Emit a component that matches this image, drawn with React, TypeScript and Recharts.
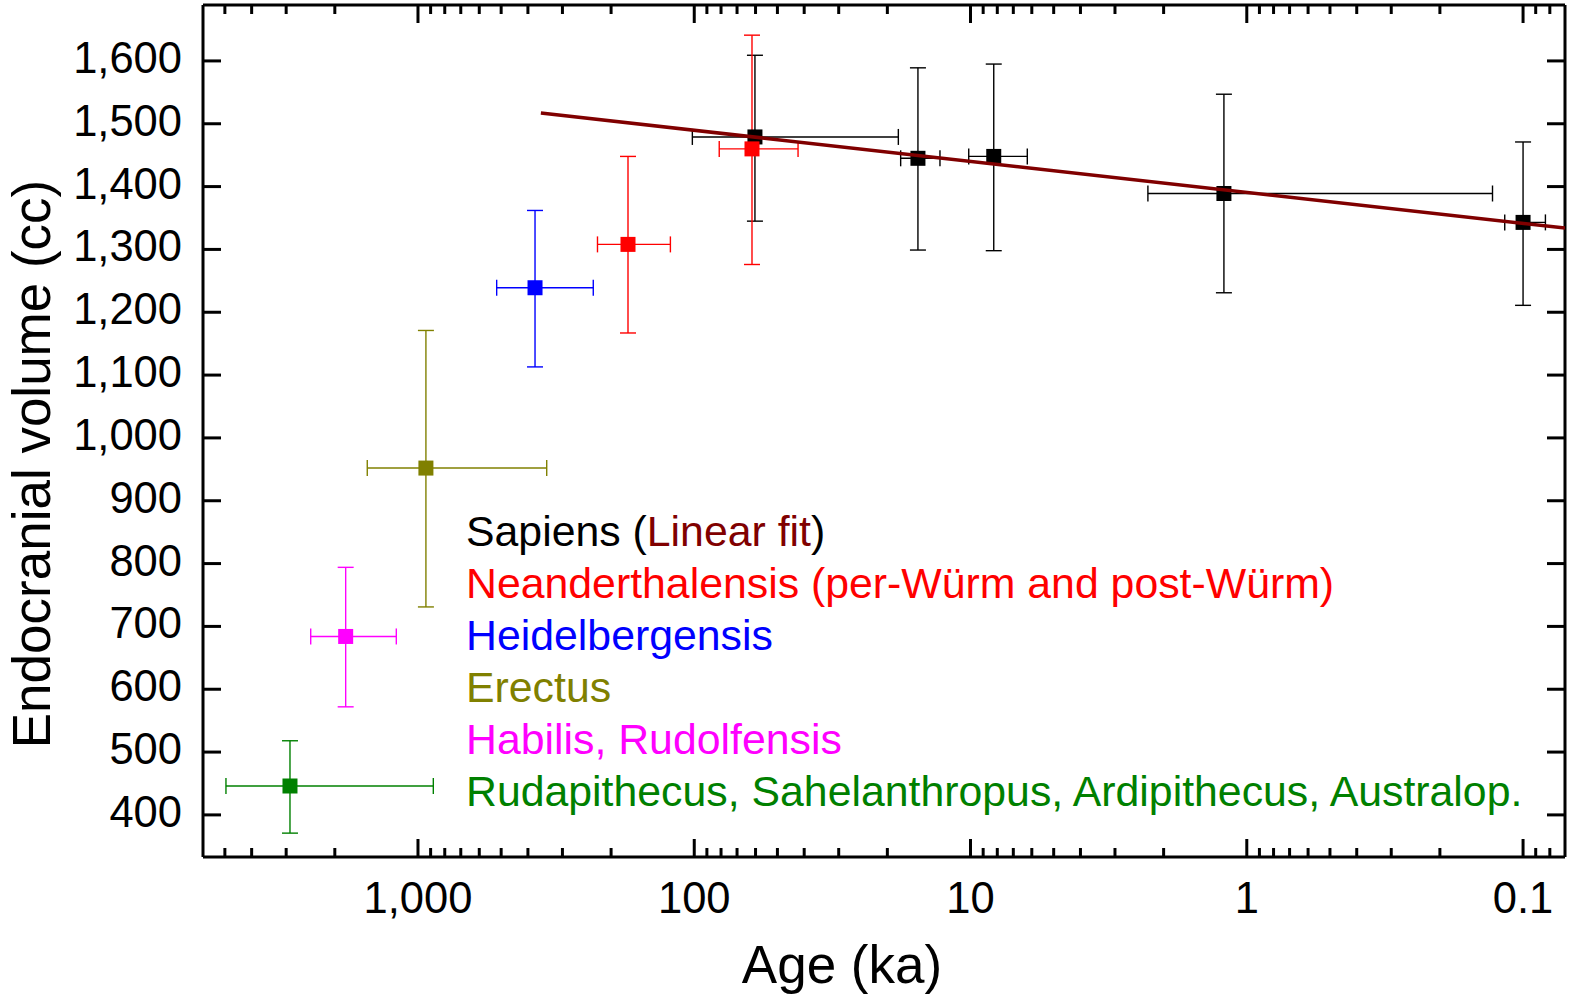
import React from 'react';
import { ScatterChart, Scatter, XAxis, YAxis, ErrorBar } from 'recharts';

const FONT = '"Liberation Sans", Arial, Helvetica, sans-serif';

// Axes
const X_DOMAIN = [0.0705, 6000];
const Y_DOMAIN = [333, 1689];
const X_MAJOR = [1000, 100, 10, 1, 0.1];
const X_MINOR = [
  5000, 4000, 3000, 2000,
  900, 800, 700, 600, 500, 400, 300, 200,
  90, 80, 70, 60, 50, 40, 30, 20,
  9, 8, 7, 6, 5, 4, 3, 2,
  0.9, 0.8, 0.7, 0.6, 0.5, 0.4, 0.3, 0.2,
  0.09, 0.08,
];
const Y_TICKS = [400, 500, 600, 700, 800, 900, 1000, 1100, 1200, 1300, 1400, 1500, 1600];

// Sapiens (black)
const sapiensAge = [60.3, 15.5, 8.24, 1.21, 0.1];
const sapiensAgeLo = [18.25, 12.9, 6.23, 0.129, 0.083];
const sapiensAgeHi = [101.6, 17.9, 10.15, 2.28, 0.1165];
const sapiensVol = [1479, 1445, 1448, 1389, 1343];
const sapiensVolLo = [1345, 1299, 1298, 1231, 1211];
const sapiensVolHi = [1609, 1589, 1595, 1547, 1471];

// Linear fit (sapiens)
const fitAge = [359, 0.0705];
const fitVol = [1517, 1334];

// Neanderthalensis (red)
const neandAge = [61.8, 173.7];
const neandAgeLo = [42.1, 122];
const neandAgeHi = [81.2, 224];
const neandVol = [1460, 1308];
const neandVolLo = [1276, 1167];
const neandVolHi = [1641, 1448];

// Heidelbergensis (blue)
const heidAge = [377];
const heidAgeLo = [232];
const heidAgeHi = [519];
const heidVol = [1239];
const heidVolLo = [1113];
const heidVolHi = [1362];

// Erectus (olive)
const erecAge = [936];
const erecAgeLo = [342];
const erecAgeHi = [1526];
const erecVol = [952];
const erecVolLo = [731];
const erecVolHi = [1171];

// Habilis, Rudolfensis (magenta)
const habAge = [1827];
const habAgeLo = [1198];
const habAgeHi = [2445];
const habVol = [684];
const habVolLo = [572];
const habVolHi = [794];

// Rudapithecus, Sahelanthropus, Ardipithecus, Australop. (green)
const rudAge = [2906];
const rudAgeLo = [880];
const rudAgeHi = [4955];
const rudVol = [446];
const rudVolLo = [371];
const rudVolHi = [518];

const LEGEND_TEXTS = [
  'Neanderthalensis (per-Würm and post-Würm)',
  'Heidelbergensis',
  'Erectus',
  'Habilis, Rudolfensis',
  'Rudapithecus, Sahelanthropus, Ardipithecus, Australop.',
];
const LEGEND_COLORS = ['#FF0000', '#0000FF', '#808000', '#FF00FF', '#008000'];

const C_BLACK = '#000000';
const C_FIT = '#800000';

function build(age: number[], aLo: number[], aHi: number[], vol: number[], vLo: number[], vHi: number[]) {
  return age.map((a, i) => ({
    x: a,
    y: vol[i],
    ex: [a - aLo[i], aHi[i] - a],
    ey: [vol[i] - vLo[i], vHi[i] - vol[i]],
  }));
}

const sapiensData = build(sapiensAge, sapiensAgeLo, sapiensAgeHi, sapiensVol, sapiensVolLo, sapiensVolHi);
const neandData = build(neandAge, neandAgeLo, neandAgeHi, neandVol, neandVolLo, neandVolHi);
const heidData = build(heidAge, heidAgeLo, heidAgeHi, heidVol, heidVolLo, heidVolHi);
const erecData = build(erecAge, erecAgeLo, erecAgeHi, erecVol, erecVolLo, erecVolHi);
const habData = build(habAge, habAgeLo, habAgeHi, habVol, habVolLo, habVolHi);
const rudData = build(rudAge, rudAgeLo, rudAgeHi, rudVol, rudVolLo, rudVolHi);
const fitData = fitAge.map((a, i) => ({ x: a, y: fitVol[i] }));

const X_ALL = [...X_MAJOR, ...X_MINOR];

const fmtX = (v: number) => (v >= 1000 ? v.toLocaleString('en-US') : String(v));
const fmtY = (v: number) => v.toLocaleString('en-US');

const TICK_FONT = 43.5;

const BottomTick = (props: any) => {
  const { x, y, payload } = props;
  const major = X_MAJOR.includes(payload.value);
  return (
    <g>
      <line x1={x} x2={x} y1={y} y2={y - (major ? 18 : 9)} stroke="#000" strokeWidth={3} />
      {major && (
        <text x={x} y={y + 56} textAnchor="middle" fontSize={TICK_FONT} fontFamily={FONT} fill="#000">
          {fmtX(payload.value)}
        </text>
      )}
    </g>
  );
};

const TopTick = (props: any) => {
  const { x, y, payload } = props;
  const major = X_MAJOR.includes(payload.value);
  return <line x1={x} x2={x} y1={y} y2={y + (major ? 18 : 9)} stroke="#000" strokeWidth={3} />;
};

const LeftTick = (props: any) => {
  const { x, y, payload } = props;
  return (
    <g>
      <line x1={x} x2={x + 18} y1={y} y2={y} stroke="#000" strokeWidth={3} />
      <text x={x - 21} y={y + 12} textAnchor="end" fontSize={TICK_FONT} fontFamily={FONT} fill="#000">
        {fmtY(payload.value)}
      </text>
    </g>
  );
};

const RightTick = (props: any) => {
  const { x, y } = props;
  return <line x1={x} x2={x - 18} y1={y} y2={y} stroke="#000" strokeWidth={3} />;
};

const XTitle = () => (
  <text x={842} y={983} textAnchor="middle" fontSize={53} fontFamily={FONT} fill="#000">
    Age (ka)
  </text>
);

const YTitle = () => (
  <text transform="translate(50,464) rotate(-90)" textAnchor="middle" fontSize={53} fontFamily={FONT} fill="#000">
    Endocranial volume (cc)
  </text>
);

const square = (color: string) => (props: any) => {
  const { cx, cy } = props;
  if (cx == null || cy == null) return <g />;
  return <rect x={cx - 7.5} y={cy - 7.5} width={15} height={15} fill={color} />;
};

const noShape = () => <g />;

const EB_W = 1.4;

export default function App() {
  const axisLine = { stroke: '#000', strokeWidth: 3 };
  const groups = [
    { key: 'neand', data: neandData, color: '#FF0000' },
    { key: 'heid', data: heidData, color: '#0000FF' },
    { key: 'erec', data: erecData, color: '#808000' },
    { key: 'hab', data: habData, color: '#FF00FF' },
    { key: 'rud', data: rudData, color: '#008000' },
  ];
  return (
    <div style={{ position: 'absolute', left: 0, top: 0, width: 1574, height: 999, background: '#fff' }}>
      <ScatterChart width={1574} height={999} margin={{ top: 0, right: 0, bottom: 0, left: 0 }}>
        <XAxis
          xAxisId="b"
          type="number"
          dataKey="x"
          scale="log"
          domain={X_DOMAIN}
          reversed
          allowDataOverflow
          ticks={X_ALL}
          interval={0}
          height={142}
          tickSize={0}
          tickMargin={0}
          tickLine={false}
          axisLine={axisLine}
          tick={(p: any) => <BottomTick {...p} />}
          label={<XTitle />}
        />
        <XAxis
          xAxisId="t"
          orientation="top"
          type="number"
          dataKey="x"
          scale="log"
          domain={X_DOMAIN}
          reversed
          allowDataOverflow
          ticks={X_ALL}
          interval={0}
          height={5}
          tickSize={0}
          tickMargin={0}
          tickLine={false}
          axisLine={axisLine}
          tick={(p: any) => <TopTick {...p} />}
        />
        <YAxis
          yAxisId="l"
          type="number"
          dataKey="y"
          domain={Y_DOMAIN}
          allowDataOverflow
          ticks={Y_TICKS}
          interval={0}
          width={203}
          tickSize={0}
          tickMargin={0}
          tickLine={false}
          axisLine={axisLine}
          tick={(p: any) => <LeftTick {...p} />}
          label={<YTitle />}
        />
        <YAxis
          yAxisId="r"
          orientation="right"
          type="number"
          dataKey="y"
          domain={Y_DOMAIN}
          allowDataOverflow
          ticks={Y_TICKS}
          interval={0}
          width={9}
          tickSize={0}
          tickMargin={0}
          tickLine={false}
          axisLine={axisLine}
          tick={(p: any) => <RightTick {...p} />}
        />
        <Scatter
          name="Sapiens"
          data={sapiensData}
          xAxisId="b"
          yAxisId="l"
          fill={C_BLACK}
          shape={square(C_BLACK)}
          isAnimationActive={false}
        >
          <ErrorBar dataKey="ex" direction="x" width={8} stroke={C_BLACK} strokeWidth={EB_W} />
          <ErrorBar dataKey="ey" direction="y" width={8} stroke={C_BLACK} strokeWidth={EB_W} />
        </Scatter>
        <Scatter
          name="Linear fit"
          data={fitData}
          xAxisId="b"
          yAxisId="l"
          fill={C_FIT}
          line={{ stroke: C_FIT, strokeWidth: 3.5 }}
          shape={noShape}
          isAnimationActive={false}
        />
        {groups.map((g) => (
          <Scatter
            key={g.key}
            data={g.data}
            xAxisId="b"
            yAxisId="l"
            fill={g.color}
            shape={square(g.color)}
            isAnimationActive={false}
          >
            <ErrorBar dataKey="ex" direction="x" width={8} stroke={g.color} strokeWidth={EB_W} />
            <ErrorBar dataKey="ey" direction="y" width={8} stroke={g.color} strokeWidth={EB_W} />
          </Scatter>
        ))}
      </ScatterChart>
      <div
        style={{
          position: 'absolute',
          left: 466,
          top: 505,
          fontFamily: FONT,
          fontSize: 42.8,
          lineHeight: '52px',
          whiteSpace: 'nowrap',
        }}
      >
        <div>
          <span style={{ color: C_BLACK }}>Sapiens (</span>
          <span style={{ color: C_FIT }}>Linear fit</span>
          <span style={{ color: C_BLACK }}>)</span>
        </div>
        {LEGEND_TEXTS.map((t, i) => (
          <div key={t} style={{ color: LEGEND_COLORS[i] }}>
            {t}
          </div>
        ))}
      </div>
    </div>
  );
}
